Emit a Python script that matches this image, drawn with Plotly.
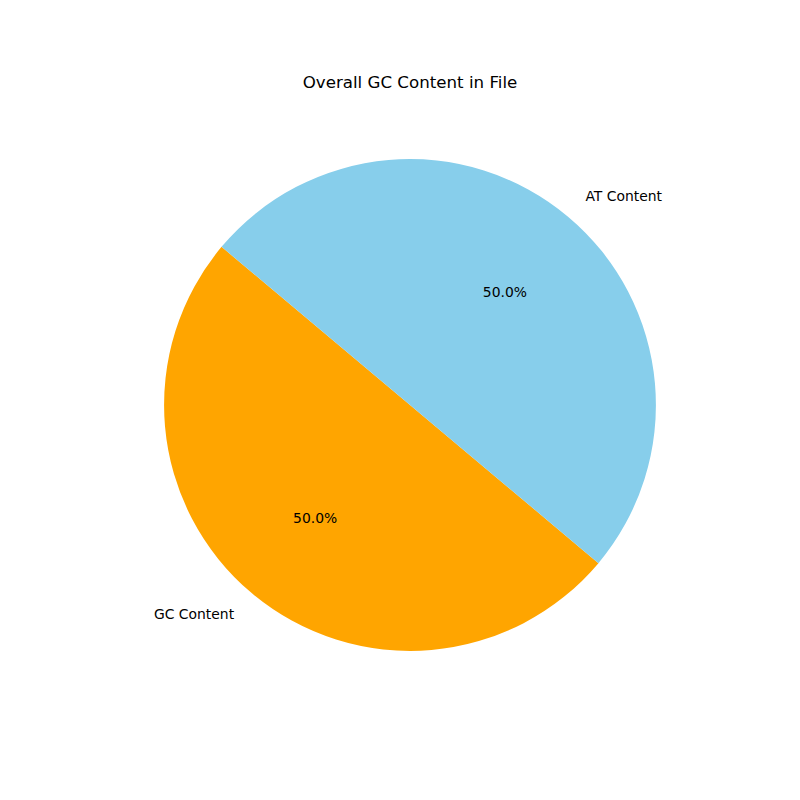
import plotly.graph_objects as go

labels = ["GC Content", "AT Content"]
values = [50.0, 50.0]
colors = ["orange", "skyblue"]
title = "Overall GC Content in File"

W = H = 800
cx, cy, r = 402, 397, 246  # pie centre and radius in pixels (page has 8px body offset)


def dom(rad):
    return dict(x=[(cx - rad) / W, (cx + rad) / W],
                y=[(H - cy - rad) / H, (H - cy + rad) / H])


common = dict(labels=labels, values=values, sort=False,
              direction="counterclockwise", rotation=130,
              showlegend=False)
font = dict(family="DejaVu Sans", size=13.9, color="black")

fig = go.Figure()
# visible pie
fig.add_trace(go.Pie(
    **common, domain=dom(r),
    marker=dict(colors=colors, line=dict(width=0)),
    textinfo="none", hoverinfo="label+percent",
))
# percent labels (transparent donut so text sits mid-ring)
fig.add_trace(go.Pie(
    **common, domain=dom(r), hole=0.2,
    marker=dict(colors=["rgba(0,0,0,0)"] * 2, line=dict(width=0)),
    texttemplate="%{percent:.1%}", textposition="inside",
    insidetextorientation="horizontal", textfont=font, hoverinfo="skip",
))
# category labels outside
fig.add_trace(go.Pie(
    **common, domain=dom(r * 1.1 - 4),
    marker=dict(colors=["rgba(0,0,0,0)"] * 2, line=dict(width=0)),
    texttemplate="%{label}", textposition="outside",
    textfont=font, hoverinfo="skip",
))
fig.update_layout(
    width=W, height=H,
    margin=dict(l=0, r=0, t=0, b=0, autoexpand=False),
    paper_bgcolor="white", plot_bgcolor="white",
    title=dict(text=title, xref="container", yref="container",
               x=402 / W, xanchor="center", y=1 - 74 / H, yanchor="middle",
               font=dict(family="DejaVu Sans", size=16.67, color="black")),
)
fig.write_html("out.html")
